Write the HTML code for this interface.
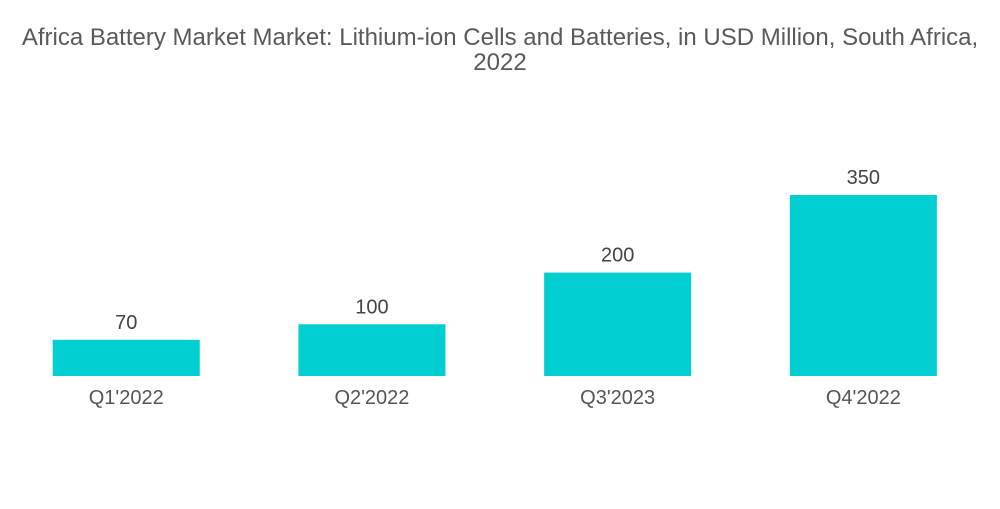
<!DOCTYPE html>
<html><head><meta charset="utf-8">
<style>
html,body{margin:0;padding:0;background:#fff;}
body{width:1000px;height:504px;overflow:hidden;font-family:"Liberation Sans",sans-serif;}
</style></head>
<body>
<svg id="chart" width="1000" height="504" xmlns="http://www.w3.org/2000/svg">
  <text x="500" y="45" text-anchor="middle" font-size="24" fill="#5a5a5a" font-family="Liberation Sans, sans-serif">Africa Battery Market Market: Lithium-ion Cells and Batteries, in USD Million, South Africa,</text>
  <text x="500" y="70" text-anchor="middle" font-size="24" fill="#5a5a5a" font-family="Liberation Sans, sans-serif">2022</text>
  <g id="bars"></g>
</svg>
<script>
const categories = ["Q1'2022", "Q2'2022", "Q3'2023", "Q4'2022"];
const values = [70, 100, 200, 350];
const valueLabels = ["70", "100", "200", "350"];

const baseline = 376, pxPerUnit = 181 / 350;
const plotLeft = 3.4, bandWidth = 245.7, barWidth = 147;
function yScale(v){ return baseline - v * pxPerUnit; }
function xBand(i){ return plotLeft + i * bandWidth + (bandWidth - barWidth) / 2; }

const g = document.getElementById('bars');
const NS = 'http://www.w3.org/2000/svg';
categories.forEach((c, i) => {
  const x = xBand(i), y = yScale(values[i]);
  const r = document.createElementNS(NS, 'rect');
  
  
  r.setAttribute('x', x); r.setAttribute('y', y);
  r.setAttribute('width', barWidth); r.setAttribute('height', baseline - y);
  r.setAttribute('fill', '#00ced1');
  g.appendChild(r);

  const t = document.createElementNS(NS, 'text');
  
  
  t.setAttribute('x', x + barWidth / 2); t.setAttribute('y', y - 11);
  t.setAttribute('text-anchor', 'middle'); t.setAttribute('font-size', '20');
  t.setAttribute('fill', '#444');
  t.textContent = valueLabels[i];
  g.appendChild(t);

  const l = document.createElementNS(NS, 'text');
  
  
  l.setAttribute('x', x + barWidth / 2); l.setAttribute('y', 404);
  l.setAttribute('text-anchor', 'middle'); l.setAttribute('font-size', '20');
  l.setAttribute('fill', '#555');
  l.textContent = c;
  g.appendChild(l);
});
</script>
</body></html>
